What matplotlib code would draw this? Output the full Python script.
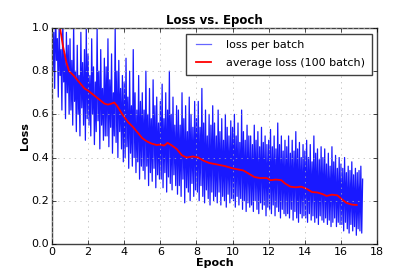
import matplotlib
matplotlib.use('Agg')
import matplotlib.pyplot as plt
import numpy as np

plt.style.use('classic')

# loss per batch, sampled every 0.05 epoch
batch_epoch_step = 0.05
batch_loss = [
    1.05, 0.80, 0.98, 0.72, 1.10, 0.85, 0.95, 0.68, 1.02, 0.78, 0.90, 0.62, 1.05, 0.75, 0.88, 0.58, 0.98, 0.70, 0.92, 0.60,
    0.95, 0.62, 0.85, 0.55, 1.02, 0.66, 0.80, 0.52, 0.92, 0.60, 0.78, 0.50, 0.98, 0.63, 0.84, 0.55, 0.90, 0.48, 1.00, 0.58,
    0.88, 0.55, 0.78, 0.50, 0.95, 0.60, 0.82, 0.46, 0.75, 0.52, 1.00, 0.57, 0.80, 0.44, 0.90, 0.55, 0.72, 0.48, 0.86, 0.50,
    0.82, 0.50, 0.95, 0.45, 0.76, 0.54, 0.88, 0.42, 0.70, 0.50, 1.00, 0.47, 0.80, 0.40, 0.85, 0.52, 0.72, 0.44, 0.78, 0.38,
    0.75, 0.40, 0.86, 0.45, 0.68, 0.35, 0.80, 0.42, 0.64, 0.36, 0.90, 0.40, 0.70, 0.33, 0.62, 0.38, 0.78, 0.30, 0.66, 0.36,
    0.70, 0.34, 0.62, 0.30, 0.80, 0.36, 0.60, 0.27, 0.72, 0.33, 0.58, 0.29, 0.76, 0.35, 0.64, 0.26, 0.68, 0.32, 0.56, 0.30,
    0.66, 0.30, 0.74, 0.26, 0.58, 0.33, 0.70, 0.24, 0.62, 0.31, 0.80, 0.28, 0.60, 0.25, 0.68, 0.32, 0.55, 0.27, 0.64, 0.23,
    0.62, 0.27, 0.55, 0.22, 0.70, 0.30, 0.58, 0.19, 0.64, 0.26, 0.52, 0.24, 0.68, 0.20, 0.60, 0.28, 0.54, 0.22, 0.66, 0.25,
    0.58, 0.24, 0.66, 0.20, 0.54, 0.27, 0.72, 0.22, 0.56, 0.19, 0.62, 0.25, 0.50, 0.21, 0.60, 0.18, 0.55, 0.24, 0.64, 0.20,
    0.56, 0.22, 0.50, 0.19, 0.62, 0.24, 0.52, 0.18, 0.58, 0.22, 0.48, 0.20, 0.60, 0.17, 0.54, 0.23, 0.50, 0.19, 0.57, 0.21,
    0.54, 0.20, 0.60, 0.17, 0.50, 0.22, 0.56, 0.18, 0.47, 0.21, 0.62, 0.16, 0.52, 0.20, 0.48, 0.15, 0.55, 0.19, 0.50, 0.17,
    0.50, 0.18, 0.46, 0.15, 0.55, 0.20, 0.48, 0.16, 0.52, 0.14, 0.45, 0.19, 0.54, 0.16, 0.47, 0.18, 0.50, 0.13, 0.46, 0.17,
    0.48, 0.16, 0.53, 0.14, 0.45, 0.18, 0.50, 0.13, 0.44, 0.17, 0.56, 0.15, 0.46, 0.12, 0.50, 0.16, 0.43, 0.14, 0.48, 0.13,
    0.45, 0.14, 0.50, 0.12, 0.42, 0.16, 0.48, 0.11, 0.43, 0.15, 0.52, 0.12, 0.44, 0.10, 0.47, 0.14, 0.40, 0.12, 0.46, 0.13,
    0.43, 0.12, 0.48, 0.10, 0.40, 0.14, 0.46, 0.11, 0.38, 0.13, 0.50, 0.10, 0.42, 0.12, 0.44, 0.09, 0.39, 0.13, 0.45, 0.11,
    0.40, 0.10, 0.44, 0.12, 0.37, 0.09, 0.42, 0.11, 0.36, 0.08, 0.45, 0.10, 0.38, 0.12, 0.41, 0.08, 0.35, 0.10, 0.40, 0.09,
    0.37, 0.09, 0.35, 0.06, 0.40, 0.10, 0.33, 0.07, 0.36, 0.05, 0.34, 0.09, 0.38, 0.06, 0.32, 0.08, 0.35, 0.04, 0.33, 0.07,
    0.34, 0.06, 0.36, 0.05, 0.30,
]

# running average over 100 batches
avg_epoch = [0.45, 0.6, 0.8, 0.95, 1.2, 1.5, 1.8, 2.0, 2.3, 2.6, 2.9, 3.1,
             3.3, 3.45, 3.6, 3.9, 4.2, 4.5, 4.8, 5.0, 5.25, 5.5, 5.8, 6.0,
             6.2, 6.4, 6.6, 6.9, 7.2, 7.45, 7.8, 8.1, 8.4, 8.7, 9.0, 9.3,
             9.6, 10.0, 10.3, 10.6, 10.9, 11.2, 11.5, 11.9, 12.1, 12.4,
             12.7, 12.9, 13.2, 13.5, 13.8, 14.1, 14.4, 14.7, 15.0, 15.2,
             15.5, 15.8, 16.0, 16.3, 16.6, 16.87]
avg_loss = [1.00, 0.92, 0.84, 0.80, 0.78, 0.75, 0.72, 0.71, 0.69, 0.67, 0.65,
            0.645, 0.65, 0.655, 0.64, 0.60, 0.565, 0.54, 0.51, 0.49, 0.475,
            0.465, 0.458, 0.46, 0.455, 0.468, 0.458, 0.44, 0.41, 0.40, 0.405,
            0.40, 0.385, 0.375, 0.37, 0.365, 0.36, 0.35, 0.345, 0.34, 0.325,
            0.31, 0.305, 0.305, 0.295, 0.298, 0.295, 0.28, 0.265, 0.262,
            0.265, 0.255, 0.24, 0.238, 0.23, 0.222, 0.228, 0.225, 0.21, 0.19,
            0.182, 0.18]

batch_epoch = np.arange(len(batch_loss)) * batch_epoch_step

fig = plt.figure(figsize=(4.19, 2.8), dpi=100, facecolor='white')
ax = fig.add_axes([0.124, 0.129, 0.776, 0.771])
ax.plot(batch_epoch, batch_loss, color='blue', alpha=0.9, linewidth=0.9,
        label='loss per batch')
ax.plot(avg_epoch, avg_loss, color='red', linewidth=1.3,
        label='average loss (100 batch)')

ax.set_xlim(0, 18)
ax.set_ylim(0, 1.0)
ax.set_xticks(range(0, 19, 2))
ax.set_yticks([0.0, 0.2, 0.4, 0.6, 0.8, 1.0])
ax.tick_params(labelsize=8, length=3, pad=2)
ax.grid(True, color='0.7', linestyle=':')
for s in ax.spines.values():
    s.set_color('0.25')
ax.set_title('Loss vs. Epoch', fontsize=8.5, fontweight='bold', pad=3)
ax.set_xlabel('Epoch', fontsize=8, fontweight='bold', labelpad=1)
ax.set_ylabel('Loss', fontsize=8, fontweight='bold', labelpad=1)
leg = ax.legend(loc='upper right', fontsize=8, labelspacing=0.7,
                borderpad=0.6, handlelength=2.0, handletextpad=1.0)
leg.get_frame().set_edgecolor('0.25')
leg.get_lines()[0].set_alpha(0.6)

fig.savefig('out.png', dpi=100, facecolor='white')
